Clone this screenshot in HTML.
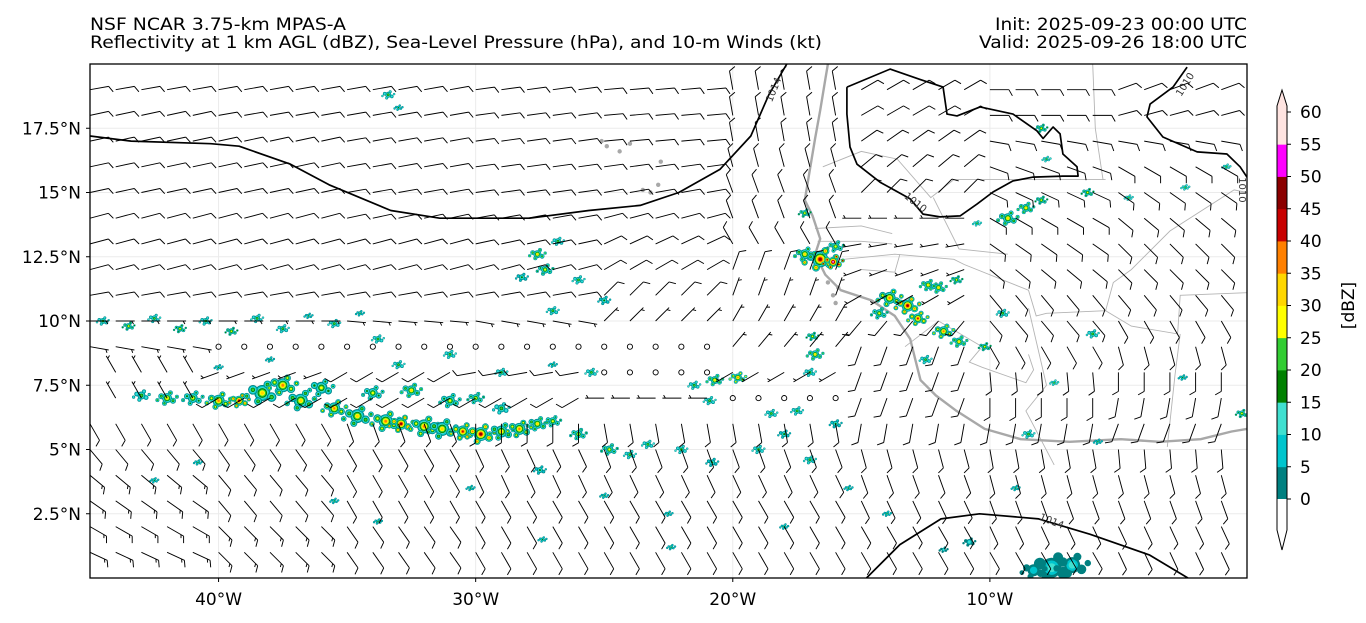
<!DOCTYPE html>
<html><head><meta charset="utf-8"><title>MPAS reflectivity</title>
<style>
html,body{margin:0;padding:0;background:#fff;}
svg{display:block;font-family:"DejaVu Sans","Liberation Sans",sans-serif;}
</style></head>
<body>
<svg id="chart" width="1366" height="623" viewBox="0 0 1366 623" xmlns="http://www.w3.org/2000/svg">
  <defs><clipPath id="mapclip"><rect x="90" y="64" width="1157" height="514"/></clipPath></defs>
  <rect x="0" y="0" width="1366" height="623" fill="#fff"/>
  <text x="90" y="30" font-size="17" textLength="256" lengthAdjust="spacingAndGlyphs" fill="#000">NSF NCAR 3.75-km MPAS-A</text>
  <text x="90" y="48" font-size="17" textLength="732" lengthAdjust="spacingAndGlyphs" fill="#000">Reflectivity at 1 km AGL (dBZ), Sea-Level Pressure (hPa), and 10-m Winds (kt)</text>
  <text x="995" y="30" font-size="17" textLength="252" lengthAdjust="spacingAndGlyphs" fill="#000">Init: 2025-09-23 00:00 UTC</text>
  <text x="979" y="48" font-size="17" textLength="268" lengthAdjust="spacingAndGlyphs" fill="#000">Valid: 2025-09-26 18:00 UTC</text>
  <g id="grid"></g>
  <g clip-path="url(#mapclip)">
    <g id="borders"></g>
    <g id="coast"></g>
    <g id="refl"></g>
    <g id="contours"></g>
    <g id="barbs"></g>
  </g>
  <rect x="90" y="64" width="1157" height="514" fill="none" stroke="#000" stroke-width="1.3"/>
  <g id="axes"></g>
  <g id="cbar"></g>
</svg>
<script>
const lonMin = -45, lonMax = 0, latMin = 0, latMax = 20;
const lonTicks = [-40, -30, -20, -10];
const lonTickLabels = ["40°W", "30°W", "20°W", "10°W"];
const latTicks = [2.5, 5, 7.5, 10, 12.5, 15, 17.5];
const latTickLabels = ["2.5°N", "5°N", "7.5°N", "10°N", "12.5°N", "15°N", "17.5°N"];
const dbzLevels = [0, 5, 10, 15, 20, 25, 30, 35, 40, 45, 50, 55, 60];
const dbzColors = ["#008080", "#00c5cd", "#40e0d0", "#008000", "#32cd32", "#ffff00", "#ffd700", "#ff8000", "#c80000", "#8b0000", "#ff00ff", "#ffe4e1"];
// SLP contours
const contour1014aLon = [-45.0, -43.4, -40.3, -39.2, -37.2, -35.7, -33.3, -31.4, -27.9, -25.6, -23.6, -22.1, -20.5, -19.3, -18.6, -17.9];
const contour1014aLat = [17.2, 17.0, 16.9, 16.8, 16.1, 15.3, 14.3, 14.0, 14.0, 14.3, 14.5, 15.0, 15.9, 17.2, 18.8, 20.0];
const contour1010aLon = [-15.56,-13.88,-12.72,-11.82,-11.67,-11.28,-10.38,-9.1,-8.17,-7.93,-7.54,-7.27,-7.16,-6.61,-6.57,-7.16,-8.32,-9.1,-9.88,-10.5,-11.16,-11.94,-12.6,-13.1,-14.27,-15.17,-15.44,-15.56,-15.56];
const contour1010aLat = [19.1,19.8,19.4,19.1,18.05,17.98,18.33,18.05,17.4,17.1,17.55,17.28,16.5,16.0,15.64,15.64,15.6,15.45,15.02,14.55,14.09,14.05,14.16,14.75,15.4,16.1,16.77,18.05,19.1];
const contour1010bLon = [-2.33,-2.88,-3.77,-3.89,-3.27,-1.94,-0.78,-0.27,0.0];
const contour1010bLat = [19.88,19.1,18.44,17.94,17.16,16.58,16.5,16.0,15.6];
const contour1014bLon = [-14.8, -13.5, -11.9, -10.4, -8.1, -6.1, -3.8, -2.3];
const contour1014bLat = [0.0, 1.3, 2.3, 2.5, 2.3, 1.7, 0.9, 0.0];
// coastline
const coastLon = [-16.3, -16.4, -16.6, -16.8, -17.0, -17.2, -16.9, -16.6, -16.8, -16.4, -15.8, -14.6, -13.7, -13.1, -12.9, -12.7, -12.1, -11.3, -10.2, -8.8, -6.9, -4.9, -3.4, -1.8, -0.6, 0.0];
const coastLat = [20.0, 19.4, 18.2, 17.1, 15.9, 14.7, 14.1, 13.2, 12.6, 11.8, 11.2, 10.8, 10.2, 9.3, 8.5, 7.7, 7.1, 6.5, 5.8, 5.4, 5.3, 5.4, 5.3, 5.4, 5.7, 5.8];
const borderLines = [
  [-16.5,16.0, -15.0,16.6, -13.6,16.3, -12.3,14.8, -11.4,15.5, -5.5,15.5],
  [-6.0,20.0, -5.9,17.5, -5.6,15.5],
  [-16.8,13.6, -15.0,13.7, -13.8,13.4],
  [-16.7,13.1, -15.0,13.1, -13.8,13.0],
  [-16.7,12.3, -13.7,12.6, -11.4,12.4, -11.0,12.2, -8.5,11.2, -8.2,10.2, -7.8,10.3, -5.5,10.4, -4.5,9.8, -2.7,9.5, -2.6,11.0, 0.0,11.1],
  [-13.3,9.0, -12.0,10.0, -10.3,9.0, -10.8,8.4, -10.3,8.2, -8.6,7.6, -8.3,8.1, -8.5,8.7],
  [-7.5,4.4, -8.6,6.5, -7.8,7.5, -8.5,10.5],
  [-3.1,5.1, -2.8,7.9, -2.6,9.5],
  [-5.5,10.4, -5.2,11.5, -4.5,12.0, -3.0,13.5, -0.5,15.1, 0.0,15.0],
  [-15.0,12.0, -13.7,11.9, -13.5,12.6],
  [-12.2,14.8, -11.2,12.8, -9.3,12.6]
];
const islandLon = [-25.1, -24.9, -24.4, -23.5, -22.9, -22.8, -24.0, -23.2, -15.9, -16.1, -16.3, -16.0];
const islandLat = [17.0, 16.8, 16.6, 15.1, 15.3, 16.2, 16.9, 15.0, 11.3, 11.0, 11.5, 10.7];
// reflectivity cells: lon, lat, size(px), max dBZ
const cellLon = [-43.0,-42.0,-41.0,-40.0,-39.2,-38.3,-37.5,-36.8,-36.0,-35.5,-34.6,-34.0,-33.5,-32.9,-32.5,-32.0,-31.3,-31.0,-30.5,-29.8,-29.0,-28.3,-27.6,-27.0,-30.0,-29.0,
 -44.5,-43.5,-42.5,-41.5,-40.5,-39.5,-38.5,-37.5,-36.5,-35.5,-34.5,-33.8,
 -40.0,-38.0,-33.0,-31.0,-29.0,-27.0,-25.5,
 -27.6,-27.3,-26.8,-28.2,-26.0,-27.0,-25.0,-33.4,-33.0,
 -26.0,-24.8,-24.0,-23.3,-22.0,-20.8,-27.5,-25.0,-22.5,-19.0,-17.0,-18.0,-15.5,-16.0,
 -20.7,-19.8,-21.5,-20.9,-16.8,-16.9,-17.0,-18.5,-17.5,
 -16.6,-16.1,-17.2,-16.0,-17.2,
 -13.9,-13.2,-12.8,-12.4,-14.3,-11.8,-11.2,-10.2,-12.5,-12.0,-11.3,-9.5,
 -9.3,-8.6,-8.0,-10.5,-8.0,-7.8,-6.2,-4.6,-2.4,-0.8,
 -7.5,-6.0,-8.5,-5.8,-0.2,-2.5,-9.0,
 -7.6,-6.8,-8.3,-10.8,-11.8,
 -40.8,-42.5,-35.5,-30.2,-33.8,-27.4,-22.4,-18.0,-14.0];
const cellLat = [7.1,7.0,7.0,6.9,6.9,7.2,7.5,6.9,7.4,6.6,6.3,7.2,6.1,6.0,7.3,5.9,5.8,6.9,5.7,5.6,5.7,5.8,6.0,6.1,7.0,6.6,
 10.0,9.8,10.1,9.7,10.0,9.6,10.1,9.7,10.2,9.9,10.3,9.3,
 8.2,8.5,8.3,8.7,8.0,8.3,8.0,
 12.6,12.0,13.1,11.7,11.6,10.4,10.8,18.8,18.3,
 5.6,5.0,4.8,5.2,5.0,4.5,4.2,3.2,2.5,5.0,4.6,5.6,3.5,6.0,
 7.7,7.8,7.5,6.9,8.7,9.4,8.0,6.4,6.5,
 12.4,12.3,12.6,12.9,14.2,
 10.9,10.6,10.1,11.4,10.3,9.6,9.2,9.0,8.5,11.3,11.6,10.3,
 14.0,14.4,14.7,13.8,17.5,16.3,15.0,14.8,15.2,16.0,
 7.6,9.5,5.6,5.3,6.4,7.8,3.5,
 0.4,0.5,0.3,1.4,1.1,
 4.5,3.8,3.0,3.5,2.2,1.5,1.2,2.0,2.5];
const cellSize = [4,5,5,6,5,8,7,7,6,6,7,5,7,6,5,7,7,5,6,7,6,6,5,4,4,4,
 3,3,3,3,3,3,3,3,2,3,2,3,
 2,2,3,3,3,2,3,
 4,4,3,3,3,3,3,3,2,
 4,4,3,3,3,3,3,2,2,3,3,3,2,3,
 4,4,3,3,4,3,3,3,3,
 8,5,5,4,3,
 6,6,5,4,4,5,4,3,3,4,3,3,
 5,4,3,2,3,2,3,2,2,2,
 2,3,3,2,3,2,2,
 10,8,6,3,2,
 2,2,2,2,2,2,2,2,2];
const cellDbz = [20,30,25,35,45,30,35,30,25,35,30,25,35,45,30,35,30,25,40,45,30,35,30,25,25,20,
 20,25,20,25,20,25,20,20,15,20,15,20,
 15,15,20,20,20,15,20,
 30,25,20,15,20,20,15,20,15,
 25,25,20,20,20,15,15,15,15,20,20,15,15,15,
 30,35,20,20,30,25,20,20,20,
 45,55,30,25,25,
 35,45,40,30,25,35,30,25,20,30,25,20,
 30,30,25,20,25,20,25,20,20,20,
 20,20,20,15,25,15,15,
 10,10,5,10,10,
 15,15,15,15,15,15,15,15,15];
// 10-m wind: rows lat 19..1, columns by 5-degree lon blocks
const windRowLats = [19,18,17,16,15,14,13,12,11,10,9,8,7,6,5,4,3,2,1];
const windDir = [
 [80,80,80,82,85,350,60,90,70],
 [78,80,80,82,85,350,60,90,75],
 [78,78,80,82,85,350,55,100,100],
 [78,78,80,82,82,345,50,110,120],
 [78,78,80,82,80,340,45,115,125],
 [75,75,78,80,75,340,270,120,130],
 [75,75,75,78,65,330,260,125,135],
 [75,75,75,75,60,20,250,130,135],
 [80,80,80,80,45,20,240,140,140],
 [90,90,95,100,45,30,220,140,150],
 [100,-1,-1,-1,-1,40,200,150,165],
 [330,250,240,260,-1,240,200,175,180],
 [330,240,240,240,270,-1,200,180,190],
 [150,150,160,180,170,170,190,190,200],
 [140,145,150,155,160,160,165,170,175],
 [130,140,150,155,155,155,160,165,165],
 [125,140,150,150,150,150,155,160,160],
 [120,135,145,150,150,150,150,155,155],
 [115,135,145,150,150,150,150,150,155]];
const windSpd = [
 [10,10,10,10,10,10,10,10,10],
 [10,10,10,10,10,10,10,10,10],
 [10,10,10,10,10,10,10,10,10],
 [10,10,10,10,10,10,10,10,10],
 [10,10,10,10,10,10,10,10,10],
 [10,10,10,10,10,10,5,10,10],
 [10,10,10,10,10,10,5,10,10],
 [10,10,10,10,10,10,5,10,10],
 [10,10,10,10,10,5,5,10,10],
 [5,5,5,5,5,5,10,10,10],
 [5,0,0,0,0,5,10,10,10],
 [5,5,10,10,0,5,10,10,10],
 [5,10,10,10,5,0,10,10,10],
 [10,10,10,10,10,10,10,10,10],
 [10,10,10,10,10,10,10,10,10],
 [15,10,10,10,10,10,10,10,10],
 [15,10,10,10,10,10,10,10,10],
 [15,15,10,10,10,10,10,10,10],
 [15,15,10,10,10,10,10,10,10]];

const X0 = 90, X1 = 1247, Y0 = 64, Y1 = 578;
function xs(lon){ return X0 + (lon - lonMin) / (lonMax - lonMin) * (X1 - X0); }
function ys(lat){ return Y1 - (lat - latMin) / (latMax - latMin) * (Y1 - Y0); }
const NS = "http://www.w3.org/2000/svg";
function mk(tag, attrs, parent){ const e = document.createElementNS(NS, tag); for (const k in attrs) e.setAttribute(k, attrs[k]); parent.appendChild(e); return e; }
function pathFrom(lons, lats){ return lons.map((v,i)=>(i?"L":"M")+xs(v).toFixed(1)+","+ys(lats[i]).toFixed(1)).join(""); }

const gridG = document.getElementById("grid");
lonTicks.forEach(v=>{ const l = mk("line",{x1:xs(v),x2:xs(v),y1:Y0,y2:Y1,stroke:"#ebebeb","stroke-width":1},gridG);
    });
latTicks.forEach(v=>{ const l = mk("line",{x1:X0,x2:X1,y1:ys(v),y2:ys(v),stroke:"#ebebeb","stroke-width":1},gridG);
    });

const bG = document.getElementById("borders");
borderLines.forEach(a=>{ const lo=[],la=[]; for(let i=0;i<a.length;i+=2){lo.push(a[i]);la.push(a[i+1]);}
  const p = mk("path",{d:pathFrom(lo,la),fill:"none",stroke:"#b4b4b4","stroke-width":0.9},bG);
    });
const cG = document.getElementById("coast");
const cp = mk("path",{d:pathFrom(coastLon,coastLat),fill:"none",stroke:"#a8a8a8","stroke-width":2.4,"stroke-linejoin":"round"},cG);
 
islandLon.forEach((v,i)=>{ const c = mk("circle",{cx:xs(v),cy:ys(islandLat[i]),r:2.2,fill:"#a8a8a8"},cG);
    });

// reflectivity: each cell drawn as a small cluster of speckles (fixed shape pattern)
const speckleDX = [0, 0.9, -0.9, 0.5, -0.4, 1.5, -1.5];
const speckleDY = [0, 0.4, -0.3, -0.8, 0.8, -0.2, 0.3];
const speckleR  = [1, 0.6, 0.6, 0.5, 0.5, 0.4, 0.4];
const rG = document.getElementById("refl");
cellLon.forEach((lon,i)=>{
  const g = mk("g",{},rG);
   
  const maxd = cellDbz[i], r0 = cellSize[i], cx = xs(lon), cyy = ys(cellLat[i]);
  speckleDX.forEach((dx,j)=>{
    const sx = cx + dx*r0*1.3, sy = cyy + speckleDY[j]*r0*1.3, rr0 = Math.max(1.2, r0*speckleR[j]);
    const top = j===0 ? maxd : Math.max(0, maxd - 10);
    const n = Math.floor(top/5)+1;
    for (let k=0;k<n;k++){
      const rr = rr0 * (1 - k/(n+0.6));
      mk("circle",{cx:sx.toFixed(1),cy:sy.toFixed(1),r:Math.max(rr,0.7).toFixed(2),fill:dbzColors[k]},g);
    }
  });
});

const ctG = document.getElementById("contours");
[[contour1014aLon,contour1014aLat,'slp-1014-north'],[contour1010aLon,contour1010aLat,'slp-1010-west-africa'],[contour1010bLon,contour1010bLat,'slp-1010-northeast'],[contour1014bLon,contour1014bLat,'slp-1014-south']].forEach(c=>{
  const p = mk("path",{d:pathFrom(c[0],c[1]),fill:"none",stroke:"#000","stroke-width":1.7,"stroke-linejoin":"round"},ctG);
   
});
function clabel(txt,lon,lat,rot,name){ const t = mk("text",{x:xs(lon),y:ys(lat),"font-size":10,"text-anchor":"middle","dominant-baseline":"middle",transform:`rotate(${rot} ${xs(lon)} ${ys(lat)})`,fill:"#333"},ctG);
  t.textContent = txt;   }
clabel("1014",-18.4,19.0,-68,'contour-label-1014-north');
clabel("1010",-12.9,14.6,38,'contour-label-1010-west');
clabel("1010",-2.4,19.2,-58,'contour-label-1010-northeast');
clabel("1010",-0.2,15.1,90,'contour-label-1010-east');
clabel("1014",-7.6,2.2,22,'contour-label-1014-south');

const wG = document.getElementById("barbs");
windRowLats.forEach((lat,ri)=>{
  for (let lon=-45; lon<=-1; lon++){
    const ci = Math.min(8, Math.floor((lon+45)/5));
    const d = windDir[ri][ci], s = windSpd[ri][ci];
    const x = xs(lon), y = ys(lat);
    if (d < 0 || s < 2.5){
      const c = mk("circle",{cx:x,cy:y,r:2.6,fill:"none",stroke:"#000","stroke-width":0.9},wG);
       
      continue;
    }
    const th = d*Math.PI/180, sx = Math.sin(th), sy = -Math.cos(th), px = -sy, py = sx;
    const L = 19, tx = x+L*sx, ty = y+L*sy;
    let dstr = `M${x.toFixed(1)},${y.toFixed(1)}L${tx.toFixed(1)},${ty.toFixed(1)}`;
    let rem = s, pos = 0;
    while (rem >= 10){ const bx = tx - pos*sx, by = ty - pos*sy;
      dstr += `M${bx.toFixed(1)},${by.toFixed(1)}l${(7*(0.5*sx+0.87*px)).toFixed(1)},${(7*(0.5*sy+0.87*py)).toFixed(1)}`; rem -= 10; pos += 3; }
    if (rem >= 5){ if (pos===0) pos = 3; const bx = tx - pos*sx, by = ty - pos*sy;
      dstr += `M${bx.toFixed(1)},${by.toFixed(1)}l${(3.5*(0.5*sx+0.87*px)).toFixed(1)},${(3.5*(0.5*sy+0.87*py)).toFixed(1)}`; }
    const p = mk("path",{d:dstr,fill:"none",stroke:"#000","stroke-width":0.95},wG);
     
  }
});

const aG = document.getElementById("axes");
lonTicks.forEach((v,i)=>{ mk("line",{x1:xs(v),x2:xs(v),y1:Y1,y2:Y1+4,stroke:"#000"},aG);
  const t = mk("text",{x:xs(v),y:Y1+27,"font-size":17,"text-anchor":"middle",fill:"#000"},aG);
  t.textContent = lonTickLabels[i];   });
latTicks.forEach((v,i)=>{ mk("line",{x1:X0-4,x2:X0,y1:ys(v),y2:ys(v),stroke:"#000"},aG);
  const t = mk("text",{x:X0-9,y:ys(v)+6,"font-size":17,"text-anchor":"end",fill:"#000"},aG);
  t.textContent = latTickLabels[i];   });

const cbG = document.getElementById("cbar");
const CB0 = 499, CBstep = 32.25, CBx = 1277, CBw = 10;
function cy(v){ return CB0 - (v/5)*CBstep; }
dbzColors.forEach((col,i)=>{ const r = mk("rect",{x:CBx,y:cy(dbzLevels[i+1]),width:CBw,height:CBstep+0.4,fill:col},cbG);
    });
mk("path",{d:`M${CBx},${cy(0)}L${CBx},${cy(0)+31}L${CBx+CBw/2},550L${CBx+CBw},${cy(0)+31}L${CBx+CBw},${cy(0)}Z`,fill:"#fff"},cbG);
mk("path",{d:`M${CBx},${cy(60)}L${CBx},${cy(60)-6}L${CBx+CBw/2},90L${CBx+CBw},${cy(60)-6}L${CBx+CBw},${cy(60)}Z`,fill:dbzColors[11]},cbG);
mk("path",{d:`M${CBx},${cy(60)-6}L${CBx+CBw/2},90L${CBx+CBw},${cy(60)-6}L${CBx+CBw},${cy(0)+31}L${CBx+CBw/2},550L${CBx},${cy(0)+31}Z`,fill:"none",stroke:"#000","stroke-width":1},cbG);
dbzLevels.forEach(v=>{ mk("line",{x1:CBx+CBw,x2:CBx+CBw+4,y1:cy(v),y2:cy(v),stroke:"#000"},cbG);
  const t = mk("text",{x:CBx+CBw+13,y:cy(v)+6,"font-size":17,fill:"#000"},cbG);
  t.textContent = String(v);   });
const cl = mk("text",{x:1349,y:cy(30),"font-size":17,"text-anchor":"middle",transform:`rotate(-90 1349 ${cy(30)})`,fill:"#000","dominant-baseline":"middle"},cbG);
cl.textContent = "[dBZ]";  
</script>
</body></html>
